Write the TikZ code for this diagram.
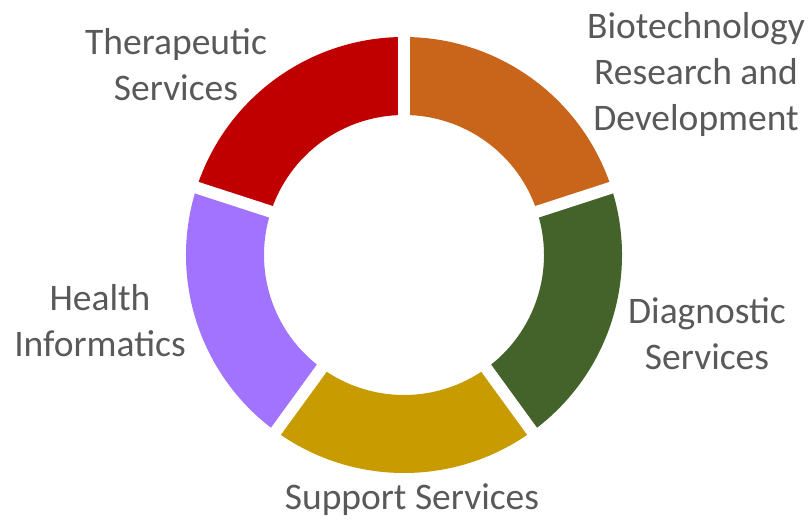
\documentclass[tikz,border=0pt]{standalone}
\usepackage{fontspec}
\setmainfont{Carlito}
\definecolor{cred}{HTML}{C00000}
\definecolor{corange}{HTML}{C8651B}
\definecolor{cgreen}{HTML}{43632B}
\definecolor{cyellow}{HTML}{C89B00}
\definecolor{cpurple}{HTML}{A173FF}
\definecolor{ctext}{HTML}{595959}
\begin{document}
\begin{tikzpicture}[x=1pt,y=1pt,
  lbl/.style={text=ctext, align=center, inner sep=0pt, font=\fontsize{37.5}{46}\selectfont},
  gapline/.style={white, line width=12pt}]
\useasboundingbox (0,0) rectangle (811,525);
\coordinate (c) at (404,270);
\def\Ro{218}
\def\Ri{140}
\foreach \a/\b/\col in {90/18/corange, 18/-54/cgreen, -54/-126/cyellow, -126/-198/cpurple, 162/90/cred}{
  \fill[\col] ([shift={(\a:\Ro)}]c) arc[start angle=\a, end angle=\b, radius=\Ro]
    -- ([shift={(\b:\Ri)}]c) arc[start angle=\b, end angle=\a, radius=\Ri] -- cycle;
}
\foreach \g in {90,18,-54,-126,162}{
  \draw[gapline] (c) -- ([shift={(\g:235)}]c);
}
\node[lbl] (ther) at (176,460) {Therapeutic\\Services};
\node[lbl] (bio) at (696,450) {Biotechnology\\Research and\\Development};
\node[lbl] (diag) at (707,191) {Diagnostic\\Services};
\node[lbl] (hi) at (100,204) {Health\\Informatics};
\node[lbl] (sup) at (412,25) {Support Services};
\end{tikzpicture}
\end{document}
